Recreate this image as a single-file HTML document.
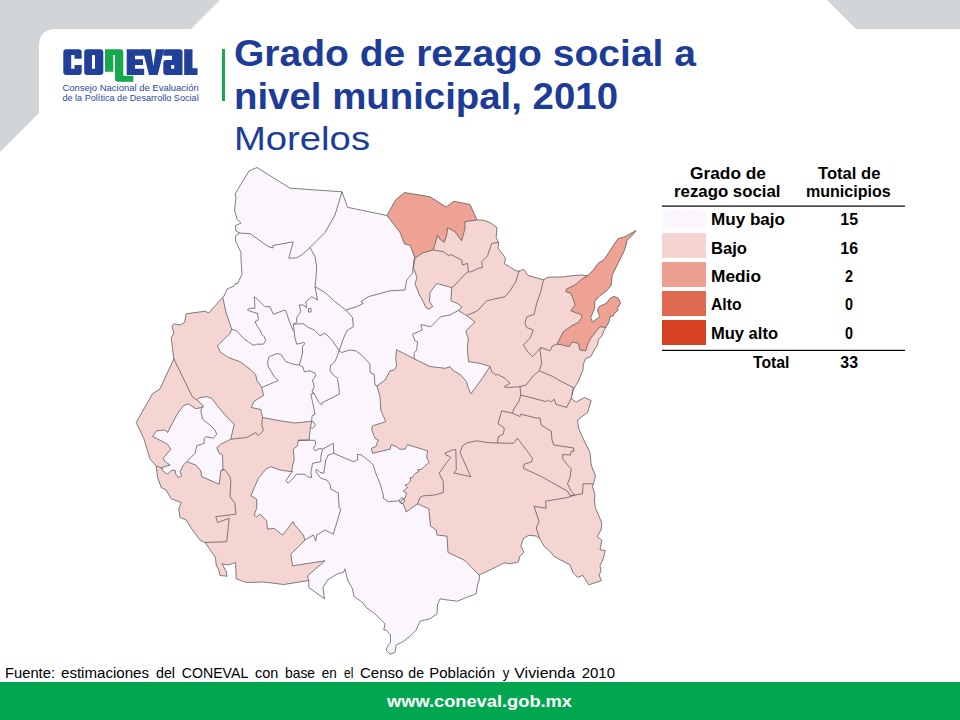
<!DOCTYPE html>
<html><head><meta charset="utf-8"><title>Grado de rezago social a nivel municipal, 2010 - Morelos</title>
<style>
html,body{margin:0;padding:0;background:#fff;}
body{width:960px;height:720px;position:relative;overflow:hidden;font-family:"Liberation Sans",sans-serif;}
svg{position:absolute;left:0;top:0;}
text{font-family:"Liberation Sans",sans-serif;}
</style></head><body>
<svg class="chrome" width="960" height="720" viewBox="0 0 960 720">
<!-- grey corner shapes -->
<path d="M0,0 L220,0 L191,29 L56,29 Q39,29 39,46 L39,113 L0,152 Z" fill="#d1d5d8"/>
<path d="M827,0 L960,0 L960,29 L856,29 Z" fill="#d1d5d8"/>
<!-- footer bar -->
<rect x="0" y="682" width="960" height="38" fill="#00a74f"/>
<!-- green divider -->
<rect x="222" y="49" width="3" height="52" fill="#1aa84f"/>
<g fill="#20409a" fill-rule="evenodd">
<path d="M63.3,52.2 Q63.3,49.2 66.3,49.2 L78.7,49.2 Q81.7,49.2 81.7,52.2 L81.7,58.7 L74.5,58.7 L74.5,55 L71.2,55 L71.2,68.7 L74.5,68.7 L74.5,65 L81.7,65 L81.7,72 Q81.7,75 78.7,75 L66.3,75 Q63.3,75 63.3,72 Z"/>
<path d="M84.2,52.2 Q84.2,49.2 87.2,49.2 L100.3,49.2 Q103.3,49.2 103.3,52.2 L103.3,72 Q103.3,75 100.3,75 L87.2,75 Q84.2,75 84.2,72 Z M92,55 L92,68.7 L95,68.7 L95,55 Z"/>
<path d="M126.7,49.2 L144.2,49.2 L144.2,55.8 L135,55.8 L135,59.2 L143,59.2 L143,65 L135,65 L135,68.7 L144.2,68.7 L144.2,75 L126.7,75 Z"/>
<path d="M142.5,49.2 L150.8,49.2 L153.3,66 L155.9,49.2 L164.2,49.2 L157.7,75 L149,75 Z"/>
<path d="M166.3,49.2 L179.5,49.2 Q182.5,49.2 182.5,52.2 L182.5,75 L166.3,75 Q163.3,75 163.3,72 L163.3,63 Q163.3,60 166.3,60 L172,60 L172,55.8 L163.3,55.8 L163.3,52.2 Q163.3,49.2 166.3,49.2 Z M171.2,65 L174.2,65 L174.2,68.7 L171.2,68.7 Z"/>
<path d="M184.2,49.2 L192.5,49.2 L192.5,68.3 L197.5,68.3 L197.5,75 L184.2,75 Z"/>
</g>
<path fill="#16a84c" d="M105,49.2 L120.3,49.2 Q123.3,49.2 123.3,52.2 L123.3,75.8 L133.3,75.8 L133.3,81.7 L118,81.7 Q115,81.7 115,78.7 L115,55 L113.3,55 L113.3,71.7 L105,71.7 Z"/>
<g fill="#2a479f" font-size="8.2">
<text x="62.4" y="91.3" textLength="136.3" lengthAdjust="spacingAndGlyphs">Consejo Nacional de Evaluación</text>
<text x="62.4" y="100.8" textLength="136.3" lengthAdjust="spacingAndGlyphs">de la Política de Desarrollo Social</text>
</g>
<!-- title -->
<g fill="#1d3c97">
<text x="234" y="66" font-size="36" font-weight="bold" textLength="462" lengthAdjust="spacingAndGlyphs">Grado de rezago social a</text>
<text x="234" y="108.5" font-size="36" font-weight="bold" textLength="384" lengthAdjust="spacingAndGlyphs">nivel municipal, 2010</text>
<text x="234" y="150" font-size="33" textLength="136" lengthAdjust="spacingAndGlyphs">Morelos</text>
</g>
<!-- legend -->
<g fill="#000" font-size="15.8" font-weight="bold">
<text x="690" y="179" textLength="76" lengthAdjust="spacingAndGlyphs">Grado de</text>
<text x="674" y="197.3" textLength="106.5" lengthAdjust="spacingAndGlyphs">rezago social</text>
<text x="818" y="179" textLength="62.5" lengthAdjust="spacingAndGlyphs">Total de</text>
<text x="806" y="197.3" textLength="84.7" lengthAdjust="spacingAndGlyphs">municipios</text>
<text x="711" y="225" textLength="74" lengthAdjust="spacingAndGlyphs">Muy bajo</text>
<text x="711" y="253.9" textLength="36" lengthAdjust="spacingAndGlyphs">Bajo</text>
<text x="711" y="281.7" textLength="50" lengthAdjust="spacingAndGlyphs">Medio</text>
<text x="711" y="310.1" textLength="30.5" lengthAdjust="spacingAndGlyphs">Alto</text>
<text x="711" y="339" textLength="67" lengthAdjust="spacingAndGlyphs">Muy alto</text>
<text x="753" y="368.1" textLength="36.5" lengthAdjust="spacingAndGlyphs">Total</text>
<text x="840.3" y="225" textLength="17.7" lengthAdjust="spacingAndGlyphs">15</text>
<text x="840.3" y="253.9" textLength="17.7" lengthAdjust="spacingAndGlyphs">16</text>
<text x="845" y="281.7" textLength="8" lengthAdjust="spacingAndGlyphs">2</text>
<text x="845" y="310.1" textLength="8" lengthAdjust="spacingAndGlyphs">0</text>
<text x="845" y="339" textLength="8" lengthAdjust="spacingAndGlyphs">0</text>
<text x="840.3" y="368.1" textLength="17.7" lengthAdjust="spacingAndGlyphs">33</text>
</g>
<rect x="662" y="205.5" width="243" height="1.2" fill="#000"/>
<rect x="662" y="349.8" width="243" height="1.2" fill="#000"/>
<rect x="662" y="209" width="44" height="20" fill="#fbf5fd"/>
<rect x="662" y="233" width="44" height="25" fill="#f5d3d1"/>
<rect x="662" y="262" width="44" height="25" fill="#eda090"/>
<rect x="662" y="291" width="44" height="25" fill="#de6a52"/>
<rect x="662" y="320" width="44" height="25" fill="#d64123"/>
<!-- source -->
<g font-size="14.5" fill="#000"><text x="5" y="677.5" textLength="50" lengthAdjust="spacingAndGlyphs">Fuente:</text><text x="61" y="677.5" textLength="88" lengthAdjust="spacingAndGlyphs">estimaciones</text><text x="156" y="677.5" textLength="19" lengthAdjust="spacingAndGlyphs">del</text><text x="181.7" y="677.5" textLength="66.6" lengthAdjust="spacingAndGlyphs">CONEVAL</text><text x="255" y="677.5" textLength="23.3" lengthAdjust="spacingAndGlyphs">con</text><text x="285" y="677.5" textLength="30" lengthAdjust="spacingAndGlyphs">base</text><text x="321.7" y="677.5" textLength="15.0" lengthAdjust="spacingAndGlyphs">en</text><text x="344" y="677.5" textLength="9.3" lengthAdjust="spacingAndGlyphs">el</text><text x="360" y="677.5" textLength="43.3" lengthAdjust="spacingAndGlyphs">Censo</text><text x="408.3" y="677.5" textLength="15.7" lengthAdjust="spacingAndGlyphs">de</text><text x="429.3" y="677.5" textLength="65.7" lengthAdjust="spacingAndGlyphs">Población</text><text x="502.7" y="677.5" textLength="6.6" lengthAdjust="spacingAndGlyphs">y</text><text x="514.3" y="677.5" textLength="60.7" lengthAdjust="spacingAndGlyphs">Vivienda</text><text x="581.7" y="677.5" textLength="33.3" lengthAdjust="spacingAndGlyphs">2010</text></g>
<!-- footer url -->
<text x="387" y="706.9" font-size="17" font-weight="bold" fill="#fff" textLength="185" lengthAdjust="spacingAndGlyphs">www.coneval.gob.mx</text>
</svg>
<svg class="map" width="960" height="720" viewBox="0 0 960 720">
<defs><clipPath id="st"><path d="M257,167.5 L290,188.2 L342,191.8 L347.5,207.3 L387,215.5 L395.5,200 L404.5,192.5 L430,196.8 L446.2,207 L453.8,201.2 L470,204.5 L477,220 L482.5,220 L490,222.5 L497,227.5 L496.2,237.5 L498.8,243 L498,248 L505.5,258 L504.5,263.8 L516.2,270.8 L520,271 L523.8,269.2 L528,275.5 L543.5,279.8 L547.5,277.3 L553,277 L562.5,277 L573.8,275.5 L581,275 L587.5,275.8 L593.3,270 L598.3,263 L603.8,260 L617.8,238.8 L625.3,236.5 L636,230.5 L632.8,234.7 L627.2,240.3 L624.4,250.6 L619.7,260 L615,269.4 L612.2,275 L611.3,285 L606.7,290.8 L598.3,297 L594.7,301.7 L594.7,308.3 L590.8,317.5 L592.5,322 L599.7,316.7 L597.5,310 L599.2,306.7 L606.7,303 L610,298.3 L614.2,296.3 L618.3,298.3 L620.5,303 L617.5,308.3 L618.3,310 L614.7,313.3 L613.3,315.8 L610,316.7 L609.2,321.7 L605.8,327.5 L603.3,331.7 L602.5,335 L598.3,340 L597.5,345 L593.3,351.7 L590.8,356.7 L585.8,358.3 L583.3,364.2 L583,370 L580.8,375 L579,380 L572.5,391.2 L571.5,399 L576.2,402 L584.5,397.5 L591.2,400.5 L587.5,412.5 L577.5,420 L578.8,428.8 L583.8,440 L590,452.5 L591.2,465 L595.5,476.2 L593.8,482.5 L592.5,486.2 L595,495 L594.4,500 L595.3,507.5 L599,516 L601.9,523.4 L601,530 L597.2,536.6 L601.9,540.3 L600,549.7 L605.3,550.6 L602.8,560 L600,565.6 L601,571.3 L599,575 L601.5,580.6 L588.8,584.8 L582.8,575.4 L577.5,577.3 L572.8,572.2 L570,564.7 L560.6,560 L554,556.3 L550.3,551.6 L543.8,546 L539.6,538.4 L536.3,536 L528.8,535.3 L523.5,538.4 L520.9,546 L524,552.5 L519.8,556.3 L518.4,561.9 L510,563.8 L504.4,562.8 L491.3,569.4 L479,575 L479.5,578.8 L477.5,585 L476.2,593.8 L465,598 L457.5,601.2 L443.8,599.5 L440,598.8 L437.5,605 L437,613.8 L430,618.8 L420,621.2 L416.2,630 L410,636.2 L403.8,641.2 L396.2,645 L395,652.5 L390,654.2 L386.2,650 L387.5,646.2 L390.5,642.5 L390.5,635 L386.2,630 L383.8,630 L385,623.8 L375,613.8 L366.2,607.5 L362.5,602.5 L353.8,596.2 L352.5,588.8 L347.5,580 L346.2,573.8 L345,568.8 L343.5,572.3 L337.5,573.8 L327.5,580 L323,587.5 L324.5,598.8 L308.8,587.5 L308.8,580.5 L283.8,584.5 L263.8,582 L246.2,582.5 L236.2,578.8 L235.5,562.5 L227.5,565 L222,563.8 L226.2,571.2 L227,576.2 L220,575.5 L218.8,570 L216.2,565 L215.5,557.5 L205,542.5 L200,540 L192.5,530 L186.2,520 L180,517.5 L178.8,508.8 L181.2,502.5 L171.2,498.8 L166.2,490 L161.2,487.5 L157.5,477 L156.2,466 L150,459 L143.8,438.5 L136.2,422.5 L152.5,393.8 L160,388.8 L173.8,358.8 L171.2,337.5 L173.8,333.8 L172,326.2 L173.8,323.8 L180,325 L184.5,322.5 L186.2,313.8 L205,311.2 L208.8,313 L222.5,297.5 L224,296 L227,289 L234,286 L235.5,283 L237.5,284 L242,274 L241,260 L241,252.5 L235.5,241 L235.5,236 L239.5,233 L236,231 L235.5,225.5 L241,223 L237,219 L234.5,210 L236,197.5 L235,194 L249,171Z"/></clipPath></defs>
<g clip-path="url(#st)">
<rect x="120" y="150" width="540" height="520" fill="#fbf5fd"/>
<path d="M415,258.3 L413.3,267.5 L417,277.5 L415,284 L419.5,295 L423.3,301.7 L425.8,307.5 L429,309.3 L432.7,306.5 L429.5,301.5 L430,292.5 L436.7,283.5 L451.7,287.5 L451,300.8 L457.5,303.5 L462,307 L458.3,310.5 L466.7,315.6 L475,321.9 L465.8,331 L468.3,339 L467.3,348.3 L468.5,361.7 L480,363.3 L490,366.5 L482.8,377.5 L475,388.3 L471,393.8 L467.8,387 L466.7,382 L461,375.3 L452.5,370 L450,366.7 L445,368.3 L430,366.5 L415,359.2 L396.5,349.7 L395.8,358.3 L396.7,365.8 L394.2,370 L390,370.8 L385,380 L377,386 L380,396.7 L380.8,410 L385.8,421.7 L372.5,425.8 L371.7,430 L375,438.3 L378.3,440 L375.8,446.7 L371.3,448.3 L372.5,453.3 L390,449.2 L391.3,444.7 L396.7,446.7 L399.2,449.2 L405,449.2 L407.5,444.7 L427.5,450.8 L426.7,457.5 L429.2,462.2 L425,465.8 L421.7,469.2 L417.5,469.7 L419.2,471.3 L415.8,473 L413.3,475.8 L411.7,478.3 L410,477.5 L410.8,480.8 L407.5,484.2 L405,485 L407.5,487.5 L404.2,490 L403.3,491.3 L406.7,493.3 L405,498 L400.5,501.2 L403.8,505 L406.2,512 L417.5,503.8 L428.8,508.8 L430.5,526.2 L436.2,530 L437,535 L447,536.2 L448,552.5 L465,560.5 L479,575 L479,610 L670,610 L670,190 L415,190Z" fill="#f5d5d2"/>
<path d="M222.7,297 L225.8,311.7 L231.7,329.2 L230,333.3 L217.5,345.8 L220,351.7 L228.3,357.5 L240,361.7 L250,369.2 L255.8,375 L256.7,380 L261.7,387.5 L263.5,395.5 L254,401.3 L251.3,407.5 L260.8,409.5 L262.5,417.5 L280,420.8 L295,423 L311.7,421.3 L310,430 L309.2,440 L298.3,440.3 L297.5,445.8 L293.3,449.2 L294.2,460 L292.5,466 L291.7,471.7 L280,470 L270.8,466.7 L265.8,469.2 L258.3,478.3 L250.8,495.8 L256.7,499.2 L256.7,508.3 L254.2,515 L256.7,516.7 L260,514.2 L266.7,520.8 L267.5,529.2 L274.2,528.3 L282.5,535 L286.7,530 L293,521.7 L294.2,524.2 L303.3,535 L305,540 L290.8,554.2 L292.5,565.8 L325,560.8 L307.5,575.8 L308.8,580.5 L308.8,610 L110,610 L110,285 L215,285Z" fill="#f5d5d2"/>
<path d="M188.3,403.8 L195.8,408.7 L201.7,407.5 L203.3,405.8 L196.7,399.7 L200,397.5 L206.7,396.7 L211.7,398.3 L216.7,405 L225,415 L234.2,424.2 L230.8,439.2 L220.8,444.2 L216.7,447.5 L219.2,453.3 L222.5,455 L223,470 L220.8,470.8 L219.2,484.2 L201.7,476.7 L200.8,470.8 L195.8,465 L186.7,461.7 L183.3,465 L180,471.7 L181.7,475.8 L178.3,477.5 L175.8,474.2 L175,470 L170.8,470.8 L167.5,474.2 L162.5,470.8 L161.7,467.5 L170,465 L164.2,460.8 L163.3,458.3 L170.8,449.2 L167.5,444.2 L152.5,436.3 L156.7,430.8 L165,430 L167.5,432.5 L176.7,415 L183.3,405.8Z" fill="#fbf5fd"/>
<path d="M399.5,499.5 L401.5,497.8 L404,498.8 L404.3,502 L402,503.8 L399.8,502.5Z" fill="#fbf5fd"/>
<path d="M387,215.5 L392,195 L404.5,185 L470,195 L480,215 L476.7,220 L465,221.7 L465,228.3 L461.7,240.8 L455,231.7 L447.7,227.8 L446.7,235 L444.3,242.3 L440,239.3 L437.5,235.3 L433.3,250 L422.5,253 L415,258.3 L410,245 L404.5,244 L400,232.5Z" fill="#eda293"/>
<path d="M587.5,275.8 L585,262 L640,222 L645,300 L625,335 L605.8,327.5 L600,326.7 L595.8,331.7 L590.8,338.3 L587.5,345 L585.8,350.8 L580,350 L578.3,343.3 L572.5,342 L569.2,346.7 L562.5,345 L557,344.2 L560.8,336.7 L563.3,331.7 L571.7,325.8 L578.3,322.5 L582,317.5 L580.8,314.2 L576.7,313 L570.8,310.8 L575,305 L573.3,299.2 L570.8,293.3 L565.8,291.7 L566.3,289.2 L575,285 L581.7,279.2Z" fill="#eda293"/>
</g>
<g fill="none" stroke="#555" stroke-width="0.75" stroke-linejoin="round">
<path d="M257,167.5 L290,188.2 L342,191.8 L347.5,207.3 L387,215.5 L395.5,200 L404.5,192.5 L430,196.8 L446.2,207 L453.8,201.2 L470,204.5 L477,220 L482.5,220 L490,222.5 L497,227.5 L496.2,237.5 L498.8,243 L498,248 L505.5,258 L504.5,263.8 L516.2,270.8 L520,271 L523.8,269.2 L528,275.5 L543.5,279.8 L547.5,277.3 L553,277 L562.5,277 L573.8,275.5 L581,275 L587.5,275.8 L593.3,270 L598.3,263 L603.8,260 L617.8,238.8 L625.3,236.5 L636,230.5 L632.8,234.7 L627.2,240.3 L624.4,250.6 L619.7,260 L615,269.4 L612.2,275 L611.3,285 L606.7,290.8 L598.3,297 L594.7,301.7 L594.7,308.3 L590.8,317.5 L592.5,322 L599.7,316.7 L597.5,310 L599.2,306.7 L606.7,303 L610,298.3 L614.2,296.3 L618.3,298.3 L620.5,303 L617.5,308.3 L618.3,310 L614.7,313.3 L613.3,315.8 L610,316.7 L609.2,321.7 L605.8,327.5 L603.3,331.7 L602.5,335 L598.3,340 L597.5,345 L593.3,351.7 L590.8,356.7 L585.8,358.3 L583.3,364.2 L583,370 L580.8,375 L579,380 L572.5,391.2 L571.5,399 L576.2,402 L584.5,397.5 L591.2,400.5 L587.5,412.5 L577.5,420 L578.8,428.8 L583.8,440 L590,452.5 L591.2,465 L595.5,476.2 L593.8,482.5 L592.5,486.2 L595,495 L594.4,500 L595.3,507.5 L599,516 L601.9,523.4 L601,530 L597.2,536.6 L601.9,540.3 L600,549.7 L605.3,550.6 L602.8,560 L600,565.6 L601,571.3 L599,575 L601.5,580.6 L588.8,584.8 L582.8,575.4 L577.5,577.3 L572.8,572.2 L570,564.7 L560.6,560 L554,556.3 L550.3,551.6 L543.8,546 L539.6,538.4 L536.3,536 L528.8,535.3 L523.5,538.4 L520.9,546 L524,552.5 L519.8,556.3 L518.4,561.9 L510,563.8 L504.4,562.8 L491.3,569.4 L479,575 L479.5,578.8 L477.5,585 L476.2,593.8 L465,598 L457.5,601.2 L443.8,599.5 L440,598.8 L437.5,605 L437,613.8 L430,618.8 L420,621.2 L416.2,630 L410,636.2 L403.8,641.2 L396.2,645 L395,652.5 L390,654.2 L386.2,650 L387.5,646.2 L390.5,642.5 L390.5,635 L386.2,630 L383.8,630 L385,623.8 L375,613.8 L366.2,607.5 L362.5,602.5 L353.8,596.2 L352.5,588.8 L347.5,580 L346.2,573.8 L345,568.8 L343.5,572.3 L337.5,573.8 L327.5,580 L323,587.5 L324.5,598.8 L308.8,587.5 L308.8,580.5 L283.8,584.5 L263.8,582 L246.2,582.5 L236.2,578.8 L235.5,562.5 L227.5,565 L222,563.8 L226.2,571.2 L227,576.2 L220,575.5 L218.8,570 L216.2,565 L215.5,557.5 L205,542.5 L200,540 L192.5,530 L186.2,520 L180,517.5 L178.8,508.8 L181.2,502.5 L171.2,498.8 L166.2,490 L161.2,487.5 L157.5,477 L156.2,466 L150,459 L143.8,438.5 L136.2,422.5 L152.5,393.8 L160,388.8 L173.8,358.8 L171.2,337.5 L173.8,333.8 L172,326.2 L173.8,323.8 L180,325 L184.5,322.5 L186.2,313.8 L205,311.2 L208.8,313 L222.5,297.5 L224,296 L227,289 L234,286 L235.5,283 L237.5,284 L242,274 L241,260 L241,252.5 L235.5,241 L235.5,236 L239.5,233 L236,231 L235.5,225.5 L241,223 L237,219 L234.5,210 L236,197.5 L235,194 L249,171Z"/>
<path d="M415,258.3 L413.3,267.5 L417,277.5 L415,284 L419.5,295 L423.3,301.7 L425.8,307.5 L429,309.3 L432.7,306.5 L429.5,301.5 L430,292.5 L436.7,283.5 L451.7,287.5 L451,300.8 L457.5,303.5 L462,307 L458.3,310.5 L466.7,315.6 L475,321.9 L465.8,331 L468.3,339 L467.3,348.3 L468.5,361.7 L480,363.3 L490,366.5 L482.8,377.5 L475,388.3 L471,393.8 L467.8,387 L466.7,382 L461,375.3 L452.5,370 L450,366.7 L445,368.3 L430,366.5 L415,359.2 L396.5,349.7 L395.8,358.3 L396.7,365.8 L394.2,370 L390,370.8 L385,380 L377,386 L380,396.7 L380.8,410 L385.8,421.7 L372.5,425.8 L371.7,430 L375,438.3 L378.3,440 L375.8,446.7 L371.3,448.3 L372.5,453.3 L390,449.2 L391.3,444.7 L396.7,446.7 L399.2,449.2 L405,449.2 L407.5,444.7 L427.5,450.8 L426.7,457.5 L429.2,462.2 L425,465.8 L421.7,469.2 L417.5,469.7 L419.2,471.3 L415.8,473 L413.3,475.8 L411.7,478.3 L410,477.5 L410.8,480.8 L407.5,484.2 L405,485 L407.5,487.5 L404.2,490 L403.3,491.3 L406.7,493.3 L405,498 L400.5,501.2 L403.8,505 L406.2,512 L417.5,503.8 L428.8,508.8 L430.5,526.2 L436.2,530 L437,535 L447,536.2 L448,552.5 L465,560.5 L479,575"/>
<path d="M222.7,297 L225.8,311.7 L231.7,329.2 L230,333.3 L217.5,345.8 L220,351.7 L228.3,357.5 L240,361.7 L250,369.2 L255.8,375 L256.7,380 L261.7,387.5 L263.5,395.5 L254,401.3 L251.3,407.5 L260.8,409.5 L262.5,417.5 L280,420.8 L295,423 L311.7,421.3 L310,430 L309.2,440 L298.3,440.3 L297.5,445.8 L293.3,449.2 L294.2,460 L292.5,466 L291.7,471.7 L280,470 L270.8,466.7 L265.8,469.2 L258.3,478.3 L250.8,495.8 L256.7,499.2 L256.7,508.3 L254.2,515 L256.7,516.7 L260,514.2 L266.7,520.8 L267.5,529.2 L274.2,528.3 L282.5,535 L286.7,530 L293,521.7 L294.2,524.2 L303.3,535 L305,540 L290.8,554.2 L292.5,565.8 L325,560.8 L307.5,575.8 L308.8,580.5"/>
<path d="M387,215.5 L400,232.5 L404.5,244 L410,245 L415,258.3 L422.5,253 L433.3,250 L437.5,235.3 L440,239.3 L444.3,242.3 L446.7,235 L447.7,227.8 L455,231.7 L461.7,240.8 L465,228.3 L465,221.7 L476.7,220"/>
<path d="M605.8,327.5 L600,326.7 L595.8,331.7 L590.8,338.3 L587.5,345 L585.8,350.8 L580,350 L578.3,343.3 L572.5,342 L569.2,346.7 L562.5,345 L557,344.2 L560.8,336.7 L563.3,331.7 L571.7,325.8 L578.3,322.5 L582,317.5 L580.8,314.2 L576.7,313 L570.8,310.8 L575,305 L573.3,299.2 L570.8,293.3 L565.8,291.7 L566.3,289.2 L575,285 L581.7,279.2 L587.5,275.8"/>
<path d="M239.5,233 L250.5,233.8 L267.5,246.2 L273,248 L273,245.5 L293.2,241.8 L288.8,258.2 L296.5,257.8 L301.7,255 L310,247.5 L317.5,240 L325,232.5 L335,215 L342,191.8"/>
<path d="M310,247.5 L315,256.7 L316.7,266.7 L315.8,280 L315,286.7 L316.7,295.8 L317.5,300 L311.7,296.7 L305.8,301.7 L306.7,307.5 L303.3,305 L299.2,305 L300.8,311.7 L296.7,317.5 L296.7,322.5 L293.3,324.2 L294.2,331.7"/>
<path d="M231.7,329.2 L236.7,330.8 L243.3,338.3 L251.7,344.2 L254.2,345.3 L256.7,344.2 L263.3,344.2 L265.8,340.8 L264.2,336.7 L261.7,334.2 L260,330 L257.5,326.7 L255,321.7 L258.3,320 L257.5,313.3 L254.2,312.5 L247.5,310 L249.2,308.3 L255,308.3 L254.2,296.7 L260,301.7 L265,306.7 L270,306.7 L273.3,314.2 L285,310 L286.7,313.3 L290,323.3 L293.3,330.8 L294.2,331.7"/>
<path d="M293.3,324.2 L303.3,323.7 L308.3,327.5 L314.2,330 L320,335.8 L325,333 L332.5,340.8 L339.2,350.8"/>
<path d="M315,286.7 L325,292.5 L335,301.7 L345.8,310 L352.5,317.5 L353.3,326.7 L347,330.5 L343.8,337.5 L339.2,350.8"/>
<path d="M345.8,310 L356.7,306.7 L363.3,303.3 L360.8,301.7 L368.3,296.7 L390,290.8 L405,290 L406.7,280 L412.5,273.3 L414.2,258.3"/>
<path d="M339.2,350.8 L341.7,352.5 L350,350 L355.8,350.8 L362.5,355.8 L370,364.2 L370,372.5 L374.2,374.2 L375,385 L377,386"/>
<path d="M339.2,350.8 L335,361.7 L330.8,365 L330,370.8 L333.3,375 L337.5,378.3 L339.2,390 L339.2,394.2 L322.5,402.5 L321.7,405 L318.3,401.7 L314.2,393.3"/>
<path d="M294.2,331.7 L295,338.3 L296.7,344.2 L303.3,342.5 L305,343.3 L302.5,346.7 L302.5,353.3 L300.8,360 L299.2,365"/>
<path d="M299.2,365 L293.3,364.2 L288.3,362.5 L285.8,361.7 L280.8,354.2 L276.7,353.7 L269.2,356.7 L267.5,361.7 L268.3,366.7 L274.2,376.7 L278.3,380.5 L261.7,387.5"/>
<path d="M299.2,365 L303.3,367.5 L304.2,371.7 L310,370.8 L315,373.3 L315.8,375.8 L312.5,380 L314.2,386.7 L312,392 L314.2,393.3 L310.8,394.2 L312.5,401.7 L315,414.2 L312,415.8 L311.7,421.3 L314.2,422.5 L315.3,425.8 L312.5,428.3 L310.5,427.5"/>
<path d="M458.3,310.5 L450,315 L440.8,316.7 L430.8,326.7 L420.8,324.7 L422.2,330 L412.5,334.2 L415,340.8 L417.5,341.7 L416.7,350 L414.2,352.5 L414.2,358.8"/>
<path d="M173.8,358.8 L192.5,397 L196.7,399.7"/>
<path d="M156.5,466 L162.5,468.5"/>
<path d="M203.3,405.8 L200.8,410 L202.5,419.2 L210,425 L215,430 L216.7,434.2 L213.3,438.3 L206.7,436.7 L204.2,438.3 L204.2,443.3 L196.7,445.8 L195,453.3 L186.7,461.7"/>
<path d="M230.8,439.2 L246.7,437.5 L255.8,432.5 L258.3,435.8 L262.5,431.7 L263.3,429.2 L261.7,425 L262.5,417.5"/>
<path d="M221.7,469.5 L225,470 L230,476.7 L230.8,481.7 L230,496.7 L235,503.3 L235.8,514.2 L215.8,516.7 L217.5,522.5 L229.2,518.3 L226.7,541.7 L205,542.5"/>
<path d="M298.3,440.3 L315,440.3 L315.8,444.2 L313.3,448.3 L315,450.8 L320,448.3 L322.5,449.2 L320.8,456.7 L320.8,461.7 L312.5,463.3 L311.7,468.3 L310.8,472.5 L311.7,477.5 L307.5,476.7 L305,474.2 L296.7,474.2 L288.3,483.3 L285.8,480.8 L292.5,470.8"/>
<path d="M322.5,449.2 L333.3,443.3 L333.7,453.3 L328.3,455 L325.8,460 L323.7,473.3 L320,472.5 L316.7,469.2 L315.8,471.7 L320.8,478.3 L326.7,480 L330,484.2 L330.8,489.2 L338.3,493 L339.2,508.3 L340.8,509.2 L333.3,534.2 L325,530 L316.7,535 L315.8,540.8 L313.3,535 L305,540"/>
<path d="M333.7,453.3 L353.3,461.7 L357.5,460 L357.5,454.2 L361.7,455 L370.8,462.5 L373.3,465 L375.8,473.3 L380,483.3 L383.3,495"/>
<path d="M383.3,495 L383.5,498.5 L388.3,501.7 L399.2,500.8"/>
<path d="M433.3,250 L443.3,251.7 L449.2,255.8 L451,254.5 L461.7,260 L462.5,265 L467.5,263.3 L468.3,271.7 L465,274.2 L454.2,285.8 L451.7,287.5"/>
<path d="M468.3,271.7 L470.8,272 L478.3,268.3 L482.5,267.5 L481.7,261.7 L487.5,255.8 L491.7,243.3 L498.3,242.5"/>
<path d="M466.7,315.6 L477.5,310.8 L486.7,300.8 L505,296.7 L510,290.8 L515.8,281.7 L518.3,273.3 L519.2,270.8"/>
<path d="M543.5,279.8 L540.8,291.7 L536.7,303.3 L534.2,314.2 L526.7,317 L525,323.3 L526.7,327.5 L533.3,330 L530,338.3 L523.3,345 L528.3,352.5 L532.5,356.7 L540.8,347.5 L550,350.8 L552.5,345.8 L557,344.2"/>
<path d="M540.8,347.5 L540,350 L541.7,363.3 L539.2,370.8"/>
<path d="M490,366.5 L491.7,371.7 L495.8,375 L497.5,374.3 L505,378.3 L510,383.3 L504.2,386.7 L507.5,387.5 L520,386.7 L525.8,385 L530,380 L533.3,375.8 L539.2,370.8 L553.3,376.7 L560,380.8 L573.3,387.5 L572.3,395"/>
<path d="M520,386.7 L520.8,395 L540,400 L545.8,401.7 L548.3,400 L551,402.2 L554.2,399.2 L555.8,404.2 L566.7,407.5 L571.5,397.5"/>
<path d="M520.8,395 L519.2,400.8 L514.2,408.3 L512.5,413.3 L501.7,410.8 L498,423.8 L503.8,427.5 L504.2,429.2 L503.3,434.2 L498.3,436.7 L497.5,443"/>
<path d="M512.5,413.3 L520,416.5 L520.8,414.2 L536.2,418 L540,418 L541.2,425 L551.2,431.2 L552,440 L553.8,445 L573.8,448 L573.8,451.2 L571.2,451.2 L570.5,455 L562.5,454.5 L563,459.5 L567.5,465 L571.2,468.8 L570,477.5 L567.5,483.8 L571.2,491.2 L575,495"/>
<path d="M417.5,504.2 L420,497.5 L423.3,495.8 L435,495 L443.3,492.5 L443.3,481.7 L439.2,473.3 L446.7,462.5 L450.8,457.5 L448.3,455.8 L445.8,455 L445,453 L448.3,451.7 L453.3,449.7 L455.8,449.7 L456.3,470 L453.7,473 L470.8,476.7 L460,452.5 L462.5,445.8 L466.7,443 L476.7,440.8 L486.7,442.5 L497.5,443 L513.3,443.3 L517.5,438.3 L532.5,458.3 L531.7,461.7 L524.2,464.2 L523.3,468.3 L540,475.8 L567.5,491.2 L570,495.5 L575,495"/>
<path d="M575,495 L582.5,493.8 L583,483.8 L593,483.8"/>
<path d="M575,495 L567.5,497.5 L545.5,501.2 L546.2,508.2 L534,506.3 L536.3,513 L539,521.6 L536.3,528 L539.6,538.4"/>
<path d="M188.3,403.8 L195.8,408.7 L201.7,407.5 L203.3,405.8 L196.7,399.7 L200,397.5 L206.7,396.7 L211.7,398.3 L216.7,405 L225,415 L234.2,424.2 L230.8,439.2 L220.8,444.2 L216.7,447.5 L219.2,453.3 L222.5,455 L223,470 L220.8,470.8 L219.2,484.2 L201.7,476.7 L200.8,470.8 L195.8,465 L186.7,461.7 L183.3,465 L180,471.7 L181.7,475.8 L178.3,477.5 L175.8,474.2 L175,470 L170.8,470.8 L167.5,474.2 L162.5,470.8 L161.7,467.5 L170,465 L164.2,460.8 L163.3,458.3 L170.8,449.2 L167.5,444.2 L152.5,436.3 L156.7,430.8 L165,430 L167.5,432.5 L176.7,415 L183.3,405.8Z"/>
<path d="M308.5,308.5 L311,308.5 L311,312 L308.5,312Z"/>
<path d="M399.5,499.5 L401.5,497.8 L404,498.8 L404.3,502 L402,503.8 L399.8,502.5Z"/>
</g>
</svg>
</body></html>
